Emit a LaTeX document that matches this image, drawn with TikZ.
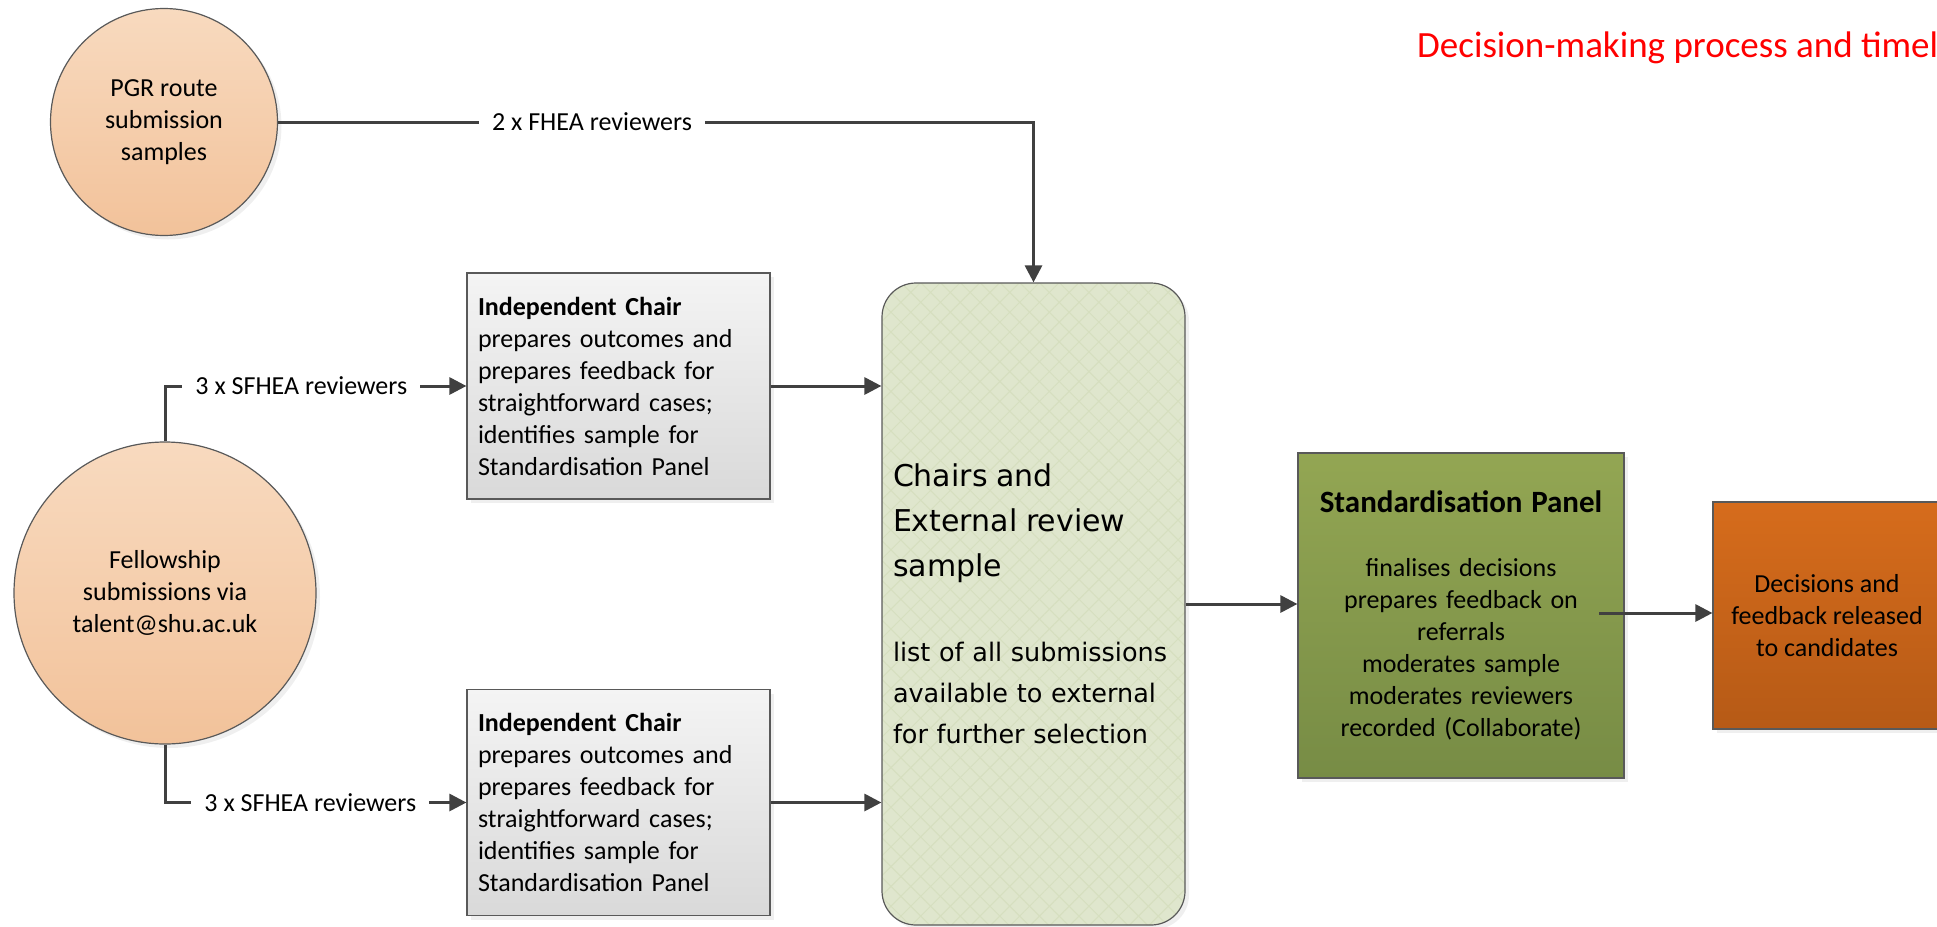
\documentclass[tikz,border=0pt]{standalone}
\usepackage{fontspec}
\setmainfont{Carlito}
\newfontfamily\verdfont{DejaVu Sans}
\usetikzlibrary{positioning,arrows.meta,shadows,patterns.meta}

\definecolor{linegray}{HTML}{404040}
\definecolor{edgegray}{HTML}{595959}
\definecolor{peachtop}{HTML}{F8DABF}
\definecolor{peachbot}{HTML}{F2C29A}
\definecolor{boxtop}{HTML}{F4F4F4}
\definecolor{boxbot}{HTML}{D9D9D9}
\definecolor{sagefill}{HTML}{DFE6CD}
\definecolor{sageline}{HTML}{D6DFBF}
\definecolor{oltop}{HTML}{93A653}
\definecolor{olbot}{HTML}{778C45}
\definecolor{ortop}{HTML}{D66C1C}
\definecolor{orbot}{HTML}{B65A16}
\definecolor{titlered}{HTML}{FF0000}

\begin{document}
\begin{tikzpicture}[x=1pt, y=-1pt,
    font=\fontsize{26}{32}\selectfont,
    conn/.style={draw=linegray, line width=3pt},
    arr/.style={conn, -{Triangle[length=17pt,width=17pt]}},
    shade/.style={drop shadow={shadow xshift=4pt, shadow yshift=-4pt, fill=black!12}},
    source/.style={circle, draw=edgegray, line width=1.2pt, align=center,
        top color=peachtop, bottom color=peachbot, shade},
    chairbox/.style={rectangle, draw=edgegray, line width=1.2pt,
        top color=boxtop, bottom color=boxbot, shade,
        minimum width=303pt, minimum height=226pt,
        text width=281pt, inner xsep=11pt, align=left},
    reviewbox/.style={rectangle, rounded corners=34pt, line width=1.2pt,
        fill=sagefill, shade,
        postaction={pattern={Lines[angle=45,distance=14pt,line width=1pt]}, pattern color=sageline},
        postaction={pattern={Lines[angle=-45,distance=14pt,line width=1pt]}, pattern color=sageline},
        postaction={draw=edgegray, line width=1.2pt},
        minimum width=303pt, minimum height=642pt,
        text width=281pt, inner xsep=11pt, align=left},
    panelbox/.style={rectangle, draw=edgegray, line width=1.2pt,
        top color=oltop, bottom color=olbot, shade,
        minimum width=326pt, minimum height=325pt, text width=304pt, align=center},
    releasebox/.style={rectangle, draw=edgegray, line width=1.2pt,
        top color=ortop, bottom color=orbot, shade,
        minimum width=228pt, minimum height=227pt, align=center},
    reviewer/.style={fill=white, inner xsep=13pt, inner ysep=2pt}
]

\useasboundingbox (0,0) rectangle (1937,926);

% Title
\node[anchor=base west, inner sep=0pt, text=titlered, font=\fontsize{37}{44}\selectfont]
    (title) at (1417,57) {Decision-making process and timeline};

% Submission sources
\node[source, minimum size=227pt] (pgr) at (164,122) {PGR route\\submission\\samples};
\node[source, minimum size=302pt] (fellow) at (165,593) {Fellowship\\submissions via\\talent@shu.ac.uk};

% Independent chairs
\node[chairbox] (chairA) at (618.5,386) {\textbf{Independent Chair}\\prepares outcomes and\\prepares feedback for\\straightforward cases;\\identifies sample for\\Standardisation Panel};
\node[chairbox] (chairB) at (618.5,802.5) {\textbf{Independent Chair}\\prepares outcomes and\\prepares feedback for\\straightforward cases;\\identifies sample for\\Standardisation Panel};

% Chairs and external review sample
\node[reviewbox] (chairs) at (1033.5,604) {{\verdfont\fontsize{30}{45}\selectfont Chairs and\\External review\\sample\par}\vspace{44pt}{\verdfont\fontsize{25.5}{41}\selectfont list of all submissions\\available to external\\for further selection\par}};

% Standardisation panel
\node[panelbox] (panel) at (1461,615.5) {{\bfseries\fontsize{31}{38}\selectfont Standardisation Panel\par}\vspace{32pt}finalises decisions\\prepares feedback on\\referrals\\moderates sample\\moderates reviewers\\recorded (Collaborate)};

% Release
\node[releasebox] (release) at (1827,615.5) {Decisions and\\feedback released\\to candidates};

% Reviewer labels
\node[reviewer] (fhea) at (592,122) {2 x FHEA reviewers};
\node[reviewer, left=46pt of chairA] (sfheaA) {3 x SFHEA reviewers};
\node[reviewer, left=37pt of chairB] (sfheaB) {3 x SFHEA reviewers};

% Connectors
\draw[conn] (pgr.east) -- (fhea.west);
\draw[arr] (fhea.east) -| (chairs.north);
\draw[conn] (fellow.north) |- (sfheaA.west);
\draw[arr] (sfheaA.east) -- (chairA.west);
\draw[conn] (fellow.south) |- (sfheaB.west);
\draw[arr] (sfheaB.east) -- (chairB.west);
\draw[arr] (chairA.east) -- (chairA.east -| chairs.west);
\draw[arr] (chairB.east) -- (chairB.east -| chairs.west);
\draw[arr] (chairs.east) -- (chairs.east -| panel.west);
\coordinate (relout) at (1599,613);
\draw[arr] (relout) -- (relout -| release.west);

\end{tikzpicture}
\end{document}
